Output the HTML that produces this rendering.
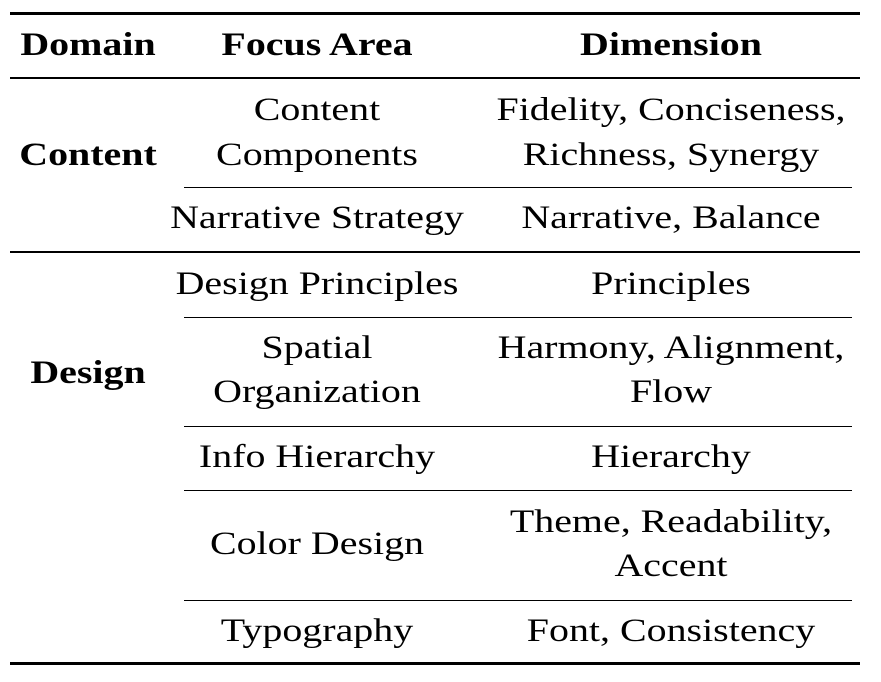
<!DOCTYPE html>
<html><head><style>
body{margin:0;width:881px;height:682px;background:#fff;position:relative;overflow:hidden;font-family:"Liberation Serif","Times New Roman",serif;color:#000}
.l{position:absolute;background:#000}
.t{position:absolute;height:40px;line-height:40px;font-size:33px;white-space:nowrap;transform:translateX(-50%) scaleX(1.21);}
.b{font-weight:bold}
</style></head><body>
<div class="l" style="left:10px;width:850px;top:12px;height:3px"></div>
<div class="l" style="left:10px;width:850px;top:77px;height:2px"></div>
<div class="l" style="left:184px;width:668px;top:187px;height:1px"></div>
<div class="l" style="left:10px;width:850px;top:251px;height:2px"></div>
<div class="l" style="left:184px;width:668px;top:317px;height:1px"></div>
<div class="l" style="left:184px;width:668px;top:426px;height:1px"></div>
<div class="l" style="left:184px;width:668px;top:490px;height:1px"></div>
<div class="l" style="left:184px;width:668px;top:600px;height:1px"></div>
<div class="l" style="left:10px;width:850px;top:662px;height:3px"></div>

<div class="t b" style="left:88px;top:25px">Domain</div>
<div class="t b" style="left:317px;top:25px">Focus Area</div>
<div class="t b" style="left:671px;top:25px">Dimension</div>

<div class="t" style="left:317px;top:90px">Content</div>
<div class="t" style="left:317px;top:135px">Components</div>
<div class="t b" style="left:88px;top:135px">Content</div>
<div class="t" style="left:671px;top:90px">Fidelity, Conciseness,</div>
<div class="t" style="left:671px;top:135px">Richness, Synergy</div>

<div class="t" style="left:317px;top:198px">Narrative Strategy</div>
<div class="t" style="left:671px;top:198px">Narrative, Balance</div>

<div class="t" style="left:317px;top:264px">Design Principles</div>
<div class="t" style="left:671px;top:264px">Principles</div>

<div class="t b" style="left:88px;top:353px">Design</div>
<div class="t" style="left:317px;top:328px">Spatial</div>
<div class="t" style="left:317px;top:372px">Organization</div>
<div class="t" style="left:671px;top:328px">Harmony, Alignment,</div>
<div class="t" style="left:671px;top:372px">Flow</div>

<div class="t" style="left:317px;top:437px">Info Hierarchy</div>
<div class="t" style="left:671px;top:437px">Hierarchy</div>

<div class="t" style="left:317px;top:524px">Color Design</div>
<div class="t" style="left:671px;top:502px">Theme, Readability,</div>
<div class="t" style="left:671px;top:546px">Accent</div>

<div class="t" style="left:317px;top:611px">Typography</div>
<div class="t" style="left:671px;top:611px">Font, Consistency</div>
</body></html>
